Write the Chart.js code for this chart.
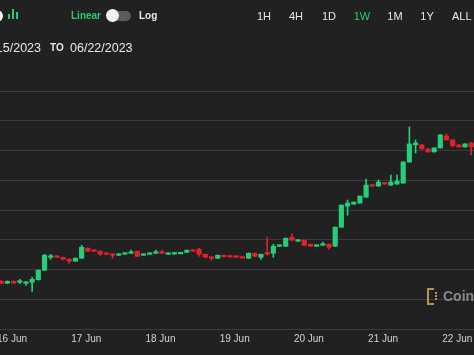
<!DOCTYPE html>
<html>
<head>
<meta charset="utf-8">
<script src="https://cdn.jsdelivr.net/npm/chart.js@4/dist/chart.umd.min.js"></script>
<style>
  html, body { margin: 0; padding: 0; background: #212121; }
  #wrap { position: relative; width: 474px; height: 355px; overflow: hidden; background: #212121;
          font-family: "Liberation Sans", Arial, sans-serif; color: #e8e8e8; }
  #wrap canvas { position: absolute; left: -60px; top: 0; }
  .t { position: absolute; white-space: nowrap; transform: translateY(-50%); line-height: 1; }
  .c { transform: translate(-50%, -50%); }
  .b { font-weight: bold; }
  .green { color: #25cc6f; }
  .bar { position: absolute; width: 2px; background: #25cc6f; }
  #knob { position: absolute; left: 106px; top: 9px; width: 13px; height: 13px; border-radius: 50%; background: #f2f2f2; }
  #track { position: absolute; left: 108px; top: 11px; width: 23px; height: 10px; border-radius: 5px; background: #5c5c5c; }
  #mark { position: absolute; left: 427px; top: 288px; width: 5px; height: 13px;
          border: 2px solid #b8924a; border-right: none; }
  #mark i { position: absolute; left: 6px; width: 2px; height: 2px; background: #b8924a; }
</style>
</head>
<body>
<div id="wrap">
  <canvas id="priceChart" width="594" height="355"></canvas>

  <div style="position:absolute;left:-9px;top:10px;width:12px;height:12px;border-radius:50%;background:#f2f2f2"></div>
  <div class="bar" style="left:8px;top:14px;height:5px"></div>
  <div class="bar" style="left:12px;top:9px;height:10px"></div>
  <div class="bar" style="left:16px;top:12px;height:7px"></div>

  <span class="t b green" style="left:71px;top:16px;font-size:10px">Linear</span>
  <div id="track"></div>
  <div id="knob"></div>
  <span class="t b" style="left:139px;top:16px;font-size:10px">Log</span>

  <span class="t c" style="left:264px;top:16px;font-size:11px">1H</span>
  <span class="t c" style="left:296px;top:16px;font-size:11px">4H</span>
  <span class="t c" style="left:329px;top:16px;font-size:11px">1D</span>
  <span class="t c green" style="left:362px;top:16px;font-size:11px">1W</span>
  <span class="t c" style="left:395px;top:16px;font-size:11px">1M</span>
  <span class="t c" style="left:427px;top:16px;font-size:11px">1Y</span>
  <span class="t" style="left:452px;top:16px;font-size:11px">ALL</span>

  <span class="t" style="right:433px;top:48px;font-size:12.5px">06/15/2023</span>
  <span class="t b" style="left:50px;top:48px;font-size:10px">TO</span>
  <span class="t" style="left:70px;top:48px;font-size:12.5px">06/22/2023</span>

  <div id="mark"><i style="top:2px"></i><i style="top:5px"></i><i style="top:8px"></i></div>
  <span class="t b" style="left:443px;top:296px;font-size:14px;color:rgba(170,170,170,0.75)">CoinDesk</span>
</div>

<script>
// 2-hour candles, hours counted from 16 Jun 00:00
const firstCandleHour = -3.5;
const candleHours = 2;

const dayLabels = ['16 Jun', '17 Jun', '18 Jun', '19 Jun', '20 Jun', '21 Jun', '22 Jun'];

const candleOpen = [
  25600, 25540, 25600, 25570, 25535, 25570, 25660, 25975, 26410, 26450,
  26410, 26345, 26280, 26380, 26715, 26645, 26615, 26545, 26515, 26480,
  26515, 26545, 26615, 26480, 26512, 26546, 26580, 26512, 26520, 26530,
  26580, 26647, 26680, 26512, 26411, 26377, 26460, 26445, 26445, 26411,
  26377, 26546, 26411, 26580, 26546, 26780, 26782, 27085, 26951, 26985,
  26849, 26782, 26815, 26849, 26782, 27423, 28131, 28198, 28232, 28434,
  28839, 28805, 28906, 28839, 28873, 28906, 29614, 30188, 30188, 30053,
  29952, 30087, 30491, 30356, 30188, 30120, 30255
];
const candleClose = [
  25535, 25600, 25540, 25600, 25570, 25670, 25975, 26480, 26450, 26410,
  26345, 26280, 26380, 26750, 26615, 26615, 26515, 26510, 26480, 26515,
  26545, 26580, 26445, 26512, 26546, 26580, 26546, 26546, 26550, 26555,
  26647, 26613, 26512, 26411, 26377, 26478, 26430, 26420, 26411, 26385,
  26546, 26445, 26512, 26512, 26782, 26815, 27052, 26985, 26985, 26815,
  26782, 26815, 26849, 26748, 27423, 28164, 28232, 28266, 28468, 28839,
  28805, 28940, 28873, 28940, 28974, 29614, 30221, 30255, 30053, 29952,
  30087, 30525, 30356, 30154, 30120, 30221, 30120
];
const candleHigh = [
  25640, 25620, 25620, 25670, 25590, 25740, 25990, 26510, 26510, 26470,
  26420, 26360, 26390, 26815, 26730, 26660, 26630, 26560, 26525, 26525,
  26555, 26650, 26625, 26520, 26555, 26650, 26650, 26555, 26560, 26565,
  26660, 26655, 26715, 26520, 26420, 26490, 26470, 26455, 26455, 26420,
  26560, 26555, 26520, 27085, 26850, 26830, 27060, 27187, 26995, 26995,
  26860, 26825, 26917, 26860, 27430, 28175, 28333, 28275, 28480, 29041,
  28850, 29007, 28915, 29176, 29176, 29625, 30795, 30356, 30200, 30065,
  30100, 30535, 30559, 30365, 30200, 30235, 30265
];
const candleLow = [
  25520, 25520, 25530, 25530, 25465, 25265, 25640, 25960, 26340, 26400,
  26330, 26210, 26270, 26370, 26600, 26600, 26480, 26500, 26380, 26470,
  26505, 26535, 26430, 26470, 26500, 26535, 26535, 26500, 26510, 26520,
  26570, 26600, 26445, 26400, 26310, 26365, 26420, 26410, 26400, 26375,
  26365, 26435, 26345, 26478, 26410, 26770, 26770, 26975, 26940, 26805,
  26770, 26770, 26805, 26681, 26770, 27410, 27827, 28185, 28220, 28420,
  28795, 28795, 28860, 28830, 28860, 28895, 29600, 29918, 30040, 29940,
  29940, 30075, 30345, 30140, 30110, 30110, 29850
];

const upColor = '#26cf76';
const downColor = '#e3202c';

const candleColors = candleOpen.map((o, i) => (candleClose[i] >= o ? upColor : downColor));
const candleX = candleOpen.map((o, i) => firstCandleHour + i * candleHours);

const ctx = document.getElementById('priceChart').getContext('2d');

new Chart(ctx, {
  type: 'bar',
  data: {
    datasets: [
      {
        label: 'Body',
        data: candleOpen.map((o, i) => ({ x: candleX[i], y: [o, candleClose[i]] })),
        backgroundColor: candleColors,
        barThickness: 4.5,
        minBarLength: 1.5,
        grouped: false,
        borderWidth: 0,
      },
      {
        label: 'Wick',
        data: candleLow.map((l, i) => ({ x: candleX[i], y: [l, candleHigh[i]] })),
        backgroundColor: candleColors,
        barThickness: 1,
        grouped: false,
        borderWidth: 0,
      },
    ],
  },
  options: {
    responsive: false,
    animation: false,
    layout: { padding: { top: 91, bottom: 5, left: 0, right: 0 } },
    plugins: { legend: { display: false }, tooltip: { enabled: false } },
    scales: {
      x: {
        type: 'linear',
        offset: false,
        min: -23.3,
        max: 168.8,
        grid: { display: false, drawTicks: false },
        border: { display: false },
        afterBuildTicks: (axis) => {
          axis.ticks = dayLabels.map((d, i) => ({ value: i * 24 }));
        },
        ticks: {
          color: '#d2d2d2',
          font: { family: 'Liberation Sans', size: 10 },
          padding: 4.5,
          maxRotation: 0,
          autoSkip: false,
          callback: (v) => dayLabels[Math.round(v / 24)],
        },
      },
      y: {
        min: 24000,
        max: 32000,
        grid: { color: '#3b3b3b', drawTicks: false },
        border: { display: false },
        ticks: { display: false, stepSize: 1000 },
      },
    },
  },
});
</script>
</body>
</html>
